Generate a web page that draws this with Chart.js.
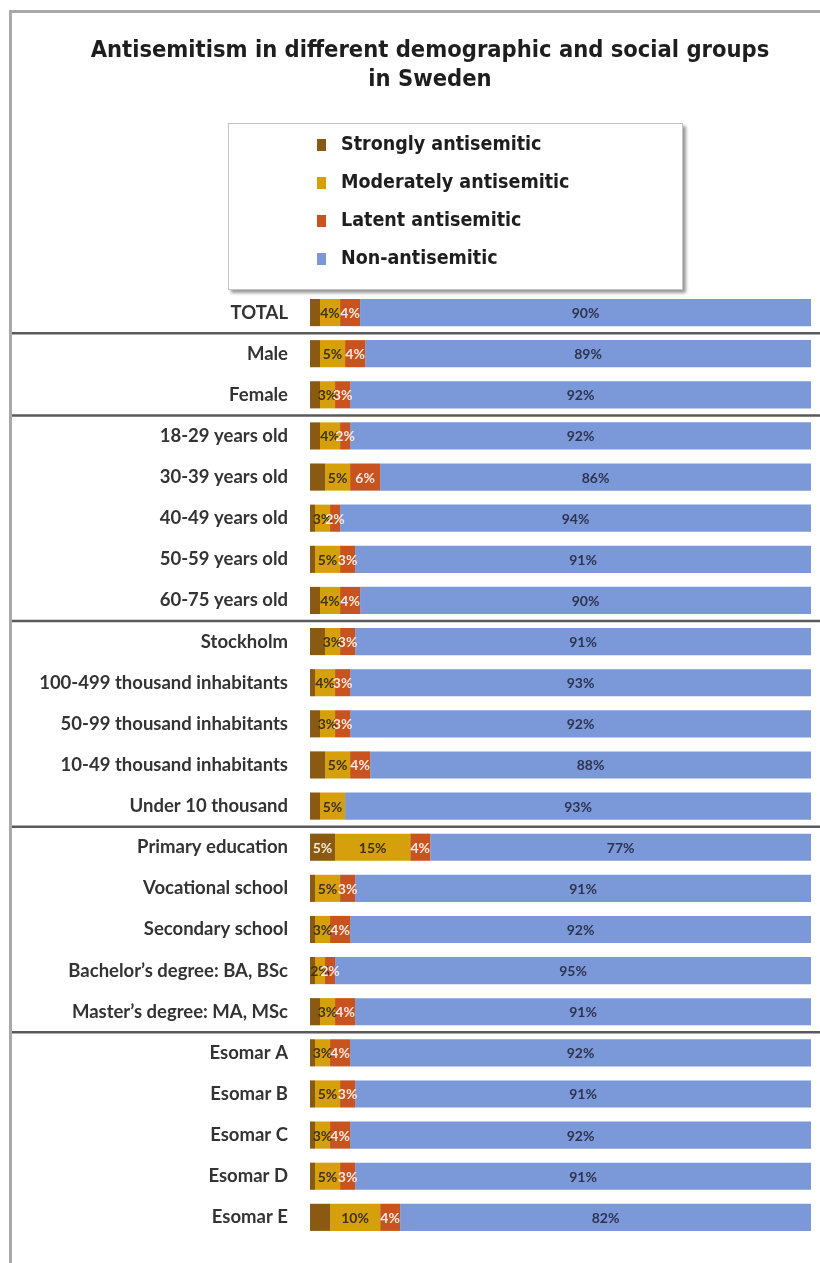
<!DOCTYPE html>
<html>
<head>
<meta charset="utf-8">
<script src="https://cdn.jsdelivr.net/npm/chart.js@4.4.1/dist/chart.umd.min.js"></script>
<style>
    html, body { margin: 0; padding: 0; background: #fff; }
    #wrap { position: relative; width: 820px; height: 1263px; overflow: hidden; }
    #frameTop { position: absolute; left: 9px; top: 10px; width: 811px; height: 3px; background: #a9a9a9; }
    #frameLeft { position: absolute; left: 9px; top: 10px; width: 3px; height: 1253px; background: #a9a9a9; }
    #chart { position: absolute; left: 0; top: 0; }
    #title {
        position: absolute; left: 40px; top: 35px; width: 780px; text-align: center;
        font-family: 'DejaVu Sans Condensed', Lato, sans-serif; font-weight: bold;
        font-size: 23.5px; line-height: 29px; color: #1e1e1e;
    }
    #legend {
        position: absolute; left: 228px; top: 123px; width: 453px; height: 165px;
        background: #fff; border: 1px solid #c4c4c4; box-shadow: 3px 3px 3px #9a9a9a;
    }
    #legend .item {
        position: absolute; left: 88px; height: 24px; line-height: 24px;
        font-family: 'DejaVu Sans Condensed', Lato, sans-serif;
        font-weight: bold; font-size: 19.5px; color: #1e1e1e; white-space: nowrap;
    }
    #legend .box { display: inline-block; width: 9px; height: 12px; margin-right: 15px; vertical-align: -1px; }
</style>
</head>
<body>
<div id="wrap">
    <canvas id="chart" width="820" height="1263"></canvas>
    <div id="frameTop"></div>
    <div id="frameLeft"></div>
    <div id="title">Antisemitism in different demographic and social groups<br>in Sweden</div>
    <div id="legend"></div>
</div>
<script>
// Groups / categories
const categories = [
    'TOTAL',
    'Male', 'Female',
    '18-29 years old', '30-39 years old', '40-49 years old', '50-59 years old', '60-75 years old',
    'Stockholm', '100-499 thousand inhabitants', '50-99 thousand inhabitants', '10-49 thousand inhabitants', 'Under 10 thousand',
    'Primary education', 'Vocational school', 'Secondary school', 'Bachelor\u2019s degree: BA, BSc', 'Master\u2019s degree: MA, MSc',
    'Esomar A', 'Esomar B', 'Esomar C', 'Esomar D', 'Esomar E'
];

// Series values (percent)
const strongly = [2, 2, 2, 2, 3, 1, 1, 2, 3, 1, 2, 3, 2, 5, 1, 1, 1, 2, 1, 1, 1, 1, 4];
const moderately = [4, 5, 3, 4, 5, 3, 5, 4, 3, 4, 3, 5, 5, 15, 5, 3, 2, 3, 3, 5, 3, 5, 10];
const latent = [4, 4, 3, 2, 6, 2, 3, 4, 3, 3, 3, 4, 0, 4, 3, 4, 2, 4, 4, 3, 4, 3, 4];
const nonAnti = [90, 89, 92, 92, 86, 94, 91, 90, 91, 93, 92, 88, 93, 77, 91, 92, 95, 91, 92, 91, 92, 91, 82];

const seriesNames = ['Strongly antisemitic', 'Moderately antisemitic', 'Latent antisemitic', 'Non-antisemitic'];

// index after which a separator line is drawn
const groupBreaks = [0, 2, 7, 12, 17];

const colors = ['#8a5a12', '#d6a00c', '#c9531f', '#7b99d8'];
const labelColors = ['#f4ead8', '#3f3210', '#fbe9e0', '#2e3350'];
const minLabel = [5, 1, 1, 1];

// Draws the percentage text inside each segment
const barLabels = {
    id: 'barLabels',
    afterDatasetsDraw(chart) {
        const ctx = chart.ctx;
        ctx.save();
        ctx.font = 'bold 14px Lato, sans-serif';
        ctx.textAlign = 'center';
        ctx.textBaseline = 'middle';
        chart.data.datasets.forEach((ds, i) => {
            const meta = chart.getDatasetMeta(i);
            meta.data.forEach((bar, j) => {
                const v = ds.data[j];
                if (!v || v < minLabel[i]) return;
                const p = bar.getProps(['x', 'y', 'base'], true);
                const right = Math.min(p.x, chart.chartArea.right);
                ctx.fillStyle = labelColors[i];
                ctx.fillText(v + '%', (right + p.base) / 2, p.y + 1);
            });
        });
        ctx.restore();
    }
};

// Horizontal rules between the groups of rows
const groupLines = {
    id: 'groupLines',
    beforeDatasetsDraw(chart) {
        const ctx = chart.ctx;
        const y = chart.scales.y;
        ctx.save();
        ctx.strokeStyle = '#5a5a5a';
        ctx.lineWidth = 2.5;
        groupBreaks.forEach(idx => {
            const yy = (y.getPixelForValue(idx) + y.getPixelForValue(idx + 1)) / 2;
            ctx.beginPath();
            ctx.moveTo(10, yy);
            ctx.lineTo(chart.width, yy);
            ctx.stroke();
        });
        ctx.restore();
    }
};

const chart = new Chart(document.getElementById('chart'), {
    type: 'bar',
    data: {
        labels: categories,
        datasets: [strongly, moderately, latent, nonAnti].map((d, i) => ({
            label: seriesNames[i],
            data: d,
            backgroundColor: colors[i],
            borderWidth: 0,
            barPercentage: 0.66,
            categoryPercentage: 1
        }))
    },
    options: {
        indexAxis: 'y',
        responsive: false,
        animation: false,
        layout: { padding: { left: 0, right: 9, top: 292, bottom: 24 } },
        plugins: {
            legend: { display: false },
            tooltip: { enabled: false },
            title: { display: false }
        },
        scales: {
            x: { stacked: true, min: 0, max: 100, display: false },
            y: {
                stacked: true,
                grid: { display: false },
                border: { display: false },
                ticks: {
                    padding: 14,
                    color: '#333',
                    font: { family: 'Lato, sans-serif', size: 18.5, weight: 'bold' }
                },
                afterFit(scale) { scale.width = 310; }
            }
        }
    },
    plugins: [groupLines, barLabels]
});

// Legend built from the datasets, one entry per line
const legendEl = document.getElementById('legend');
chart.data.datasets.forEach((ds, i) => {
    const item = document.createElement('div');
    item.className = 'item';
    item.style.top = (8 + i * 38) + 'px';
    item.innerHTML = `<span class="box" style="background:${ds.backgroundColor}"></span>${ds.label}`;
    legendEl.appendChild(item);
});
</script>
</body>
</html>
